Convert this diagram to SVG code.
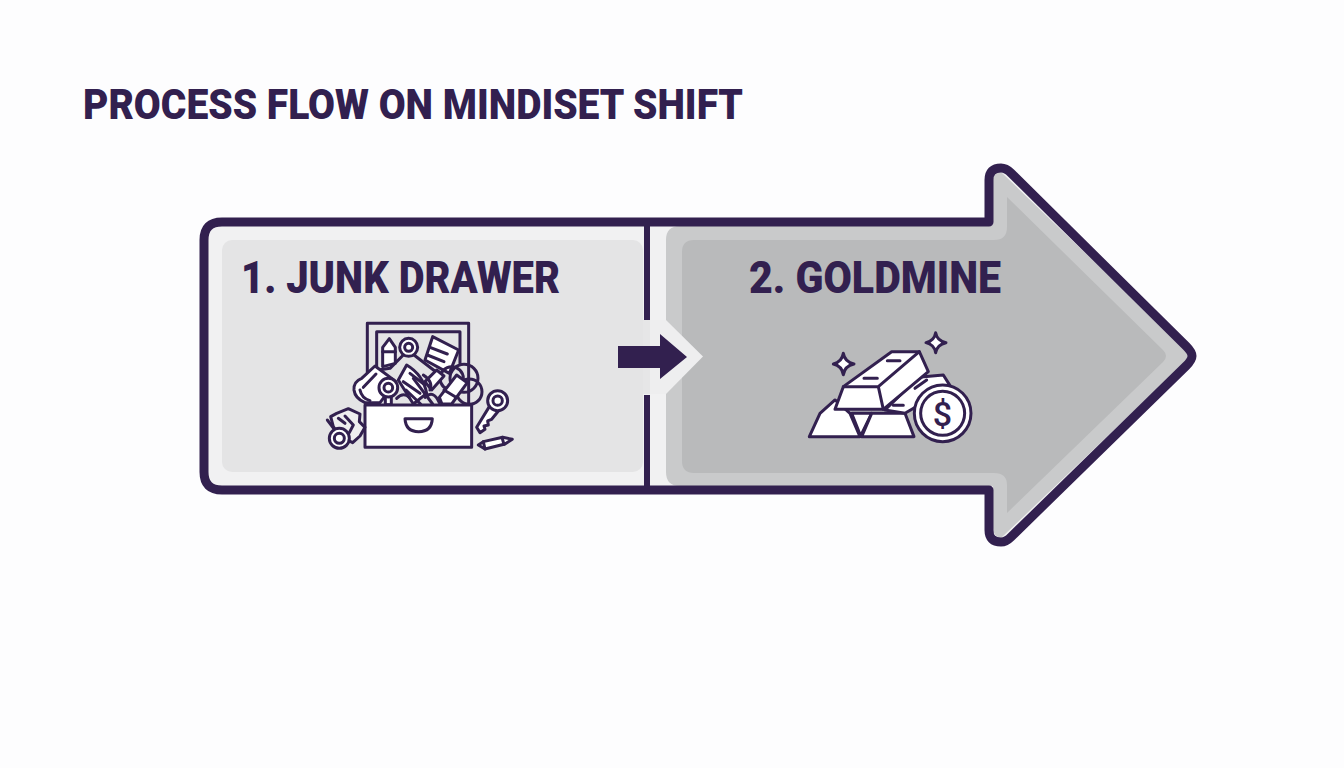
<svg xmlns="http://www.w3.org/2000/svg" width="1344" height="768" viewBox="0 0 1344 768">
<style>
text{font-family:"Roboto","Liberation Sans",sans-serif;font-weight:900;fill:#32204f}
.ic{fill:#fff;stroke:#32204f;stroke-width:9;stroke-linejoin:round;stroke-linecap:round}
.no{fill:none}
.gr{fill:#e4e4e5}
</style>
<rect width="1344" height="768" fill="#fdfdfe"/>
<text id="title" x="83" y="118.500" font-size="42" textLength="660" lengthAdjust="spacingAndGlyphs">PROCESS FLOW ON MINDISET SHIFT</text>
<g id="arrow-body">
<path d="M222,222H989V180Q989,168 1001,168Q1006,168 1011,173L1186,346Q1192,352 1192,356Q1192,360 1186,366L1011,537Q1006,542 1001,542Q989,542 989,530V490H222Q204,490 204,472V240Q204,222 222,222Z" fill="#f1f1f2"/>
<path d="M666,226H989V182Q993,172 1001,172L1186,350Q1190,356 1186,361L1001,538Q993,536 993,528V486H680Q666,486 666,472V240Q666,226 680,226Z" fill="#c9cacb"/>
<path d="M694,240H994Q1007,240 1007,227V197L1163,350Q1169,356 1163,362L1007,513V485Q1007,473 994,473H694Q682,473 682,461V252Q682,240 694,240Z" fill="#b9babb"/>
<rect x="222" y="240" width="421" height="232" rx="10" fill="#e4e4e5"/>
<path d="M643,320H650V394H643Z" fill="#e6e6e7"/>
<path d="M650,320H666L703,356.500L666,394H650Z" fill="#eeeeef"/>
<path d="M222,222H989V180Q989,168 1001,168Q1006,168 1011,173L1186,346Q1192,352 1192,356Q1192,360 1186,366L1011,537Q1006,542 1001,542Q989,542 989,530V490H222Q204,490 204,472V240Q204,222 222,222Z" fill="none" stroke="#32204f" stroke-width="9" stroke-linejoin="round"/>
</g>
<g id="connectors">
<path d="M647,222V320M647,395V490" fill="none" stroke="#32204f" stroke-width="6"/>
<path d="M618,346H660V334L687,357L660,379V368H618Z" fill="#32204f"/>
</g>
<g id="node-1">
<text x="241" y="293" font-size="45" textLength="319" lengthAdjust="spacingAndGlyphs">1. JUNK DRAWER</text>
<g transform="translate(310,310) scale(.3333)">
<rect class="ic gr" x="172" y="40" width="304" height="250" style="fill:#e4e4e5"/>
<path class="ic no" d="M200,170V65H450V160"/>
<path class="ic" d="M218,170V112L238,86L256,112V160Z"/>
<path class="ic no" d="M218,125H256"/>
<path class="ic" d="M368,80L446,120L418,190L345,150Z"/>
<path class="ic no" d="M360,112L412,132M352,135L402,155"/>
<path class="ic no" d="M280,135L240,175L205,180M312,135L390,195"/>
<circle class="ic" cx="296" cy="112" r="27"/><circle class="ic" cx="296" cy="112" r="12"/>
<circle class="ic no" cx="462" cy="205" r="42"/>
<circle class="ic no" cx="425" cy="205" r="35"/>
<circle class="ic no" cx="478" cy="245" r="38"/>
<path class="ic" d="M290,165Q340,195 350,250L310,282L265,210Z"/>
<path class="ic no" d="M300,190L345,225M280,215L330,250"/>
<path class="ic" d="M132,240Q130,215 155,205L195,168L258,215L210,278H165Q135,265 132,240Z"/>
<path class="ic no" d="M160,232L198,192M150,240Q155,265 180,272"/>
<path class="ic" d="M345,215L380,180L402,198L365,240Z"/>
<path class="ic" d="M388,262L440,195L472,218L425,282H396Z"/>
<path class="ic no" d="M402,240L438,262M310,205L368,282M288,240L332,282M345,262Q370,238 388,278M260,265Q280,245 298,262M340,195Q370,215 360,240"/>
<path class="ic" d="M226,255H244V284H226Z"/>
<circle class="ic" cx="235" cy="233" r="28"/><circle class="ic" cx="235" cy="233" r="13"/>
<rect class="ic" x="165" y="285" width="320" height="127"/>
<path class="ic" d="M285,326H367Q365,365 326,365Q287,365 285,326Z" style="fill:#fff"/>
<path class="ic" d="M62,320L80,310L115,296L150,312L148,335L165,352L150,378L128,398L88,378L70,350Z" style="fill:#eeeeef"/>
<path class="ic no" d="M105,318L130,345L118,368M85,325L105,340"/>
<path class="ic no" d="M52,330L76,362"/>
<circle class="ic" cx="88" cy="385" r="30"/><circle class="ic" cx="88" cy="385" r="15"/>
<path class="ic" d="M538,290L500,352L510,368L525,358L522,348L535,345L533,333L545,328L572,295Z"/>
<circle class="ic" cx="563" cy="272" r="30"/><circle class="ic" cx="563" cy="272" r="14"/>
<path class="ic" d="M505,405L520,395L578,382L607,388L585,402L525,417Z"/>
<path class="ic no" d="M520,395L525,417M576,382L582,403"/>
</g>
</g>
<g id="node-2">
<text x="749" y="293" font-size="45" textLength="252" lengthAdjust="spacingAndGlyphs">2. GOLDMINE</text>
<g transform="translate(790,320) scale(.3333)">
<path class="ic" d="M160,100Q164,126 192,132Q164,138 160,164Q156,138 130,132Q156,126 160,100Z"/>
<path class="ic" d="M437,38Q441,62 468,68Q441,74 437,98Q433,74 408,68Q433,62 437,38Z"/>
<path class="ic" d="M90,280L135,240L180,280L210,350H58Z"/>
<path class="ic" d="M185,280H245L212,348Z"/>
<path class="ic" d="M245,280H345L372,350H215Z"/>
<path class="ic" d="M285,270L385,172L460,165L482,200L345,280Z"/>
<path class="ic no" d="M375,205L410,180M310,256H340"/>
<path class="ic" d="M160,200L305,95H388L415,155L280,268H135Z"/>
<path class="ic no" d="M160,200H265L388,95M265,200L280,268M222,175H262M292,122H330"/>
<circle class="ic" cx="458" cy="280" r="85"/>
<circle class="ic" cx="458" cy="280" r="66"/>
</g>
<text x="942.500" y="426" font-size="34" text-anchor="middle" style="font-weight:500">$</text>
</g>
</svg>
